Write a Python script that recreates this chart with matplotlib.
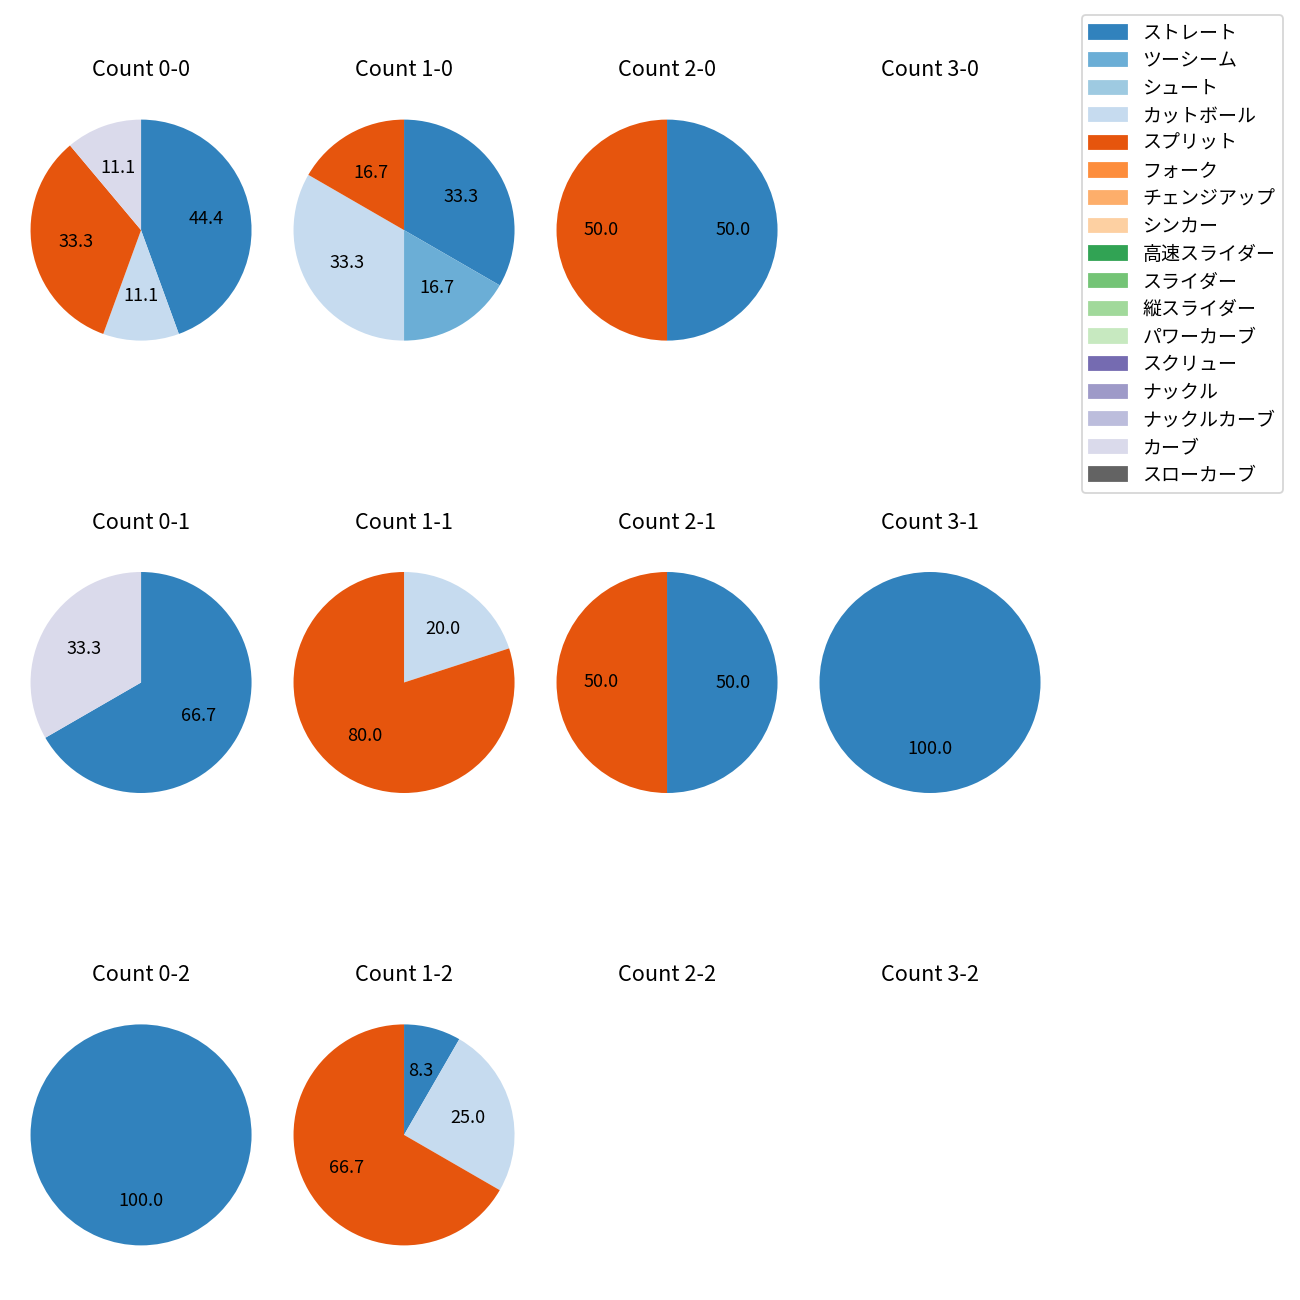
import matplotlib
matplotlib.use('Agg')
import matplotlib.pyplot as plt
from matplotlib.patches import Patch

plt.rcParams['font.family'] = ['Noto Sans CJK JP', 'DejaVu Sans']

pitch_types = ['ストレート', 'ツーシーム', 'シュート', 'カットボール', 'スプリット', 'フォーク',
               'チェンジアップ', 'シンカー', '高速スライダー', 'スライダー', '縦スライダー',
               'パワーカーブ', 'スクリュー', 'ナックル', 'ナックルカーブ', 'カーブ', 'スローカーブ']
colors = list(plt.get_cmap('tab20c').colors[:17])

count_labels = ['0-0', '1-0', '2-0', '3-0',
                '0-1', '1-1', '2-1', '3-1',
                '0-2', '1-2', '2-2', '3-2']

# pitches thrown in each count (only non-zero ones)
count_0_0 = {'ストレート': 4, 'カットボール': 1, 'スプリット': 3, 'カーブ': 1}
count_1_0 = {'ストレート': 2, 'ツーシーム': 1, 'カットボール': 2, 'スプリット': 1}
count_2_0 = {'ストレート': 1, 'スプリット': 1}
count_3_0 = {}
count_0_1 = {'ストレート': 2, 'カーブ': 1}
count_1_1 = {'カットボール': 1, 'スプリット': 4}
count_2_1 = {'ストレート': 1, 'スプリット': 1}
count_3_1 = {'ストレート': 1}
count_0_2 = {'ストレート': 1}
count_1_2 = {'ストレート': 1, 'カットボール': 3, 'スプリット': 8}
count_2_2 = {}
count_3_2 = {}

all_counts = [count_0_0, count_1_0, count_2_0, count_3_0,
              count_0_1, count_1_1, count_2_1, count_3_1,
              count_0_2, count_1_2, count_2_2, count_3_2]

fig = plt.figure(figsize=(10, 10), dpi=130)

col_x = [0.1085, 0.3108, 0.5131, 0.7154]
row_y = [0.823, 0.475, 0.127]
size = 0.2125

for i, (lab, data) in enumerate(zip(count_labels, all_counts)):
    cx = col_x[i % 4]
    cy = row_y[i // 4]
    ax = fig.add_axes([cx - size / 2, cy - size / 2, size, size])
    if data:
        names = [p for p in pitch_types if p in data]
        vals = [data[p] for p in names]
        cols = [colors[pitch_types.index(p)] for p in names]
        ax.pie(vals, colors=cols, autopct='%.1f', startangle=90, counterclock=False)
    else:
        ax.axis('off')
    ax.set_title('Count ' + lab, pad=8.6)

handles = [Patch(color=c, label=p) for p, c in zip(pitch_types, colors)]
fig.legend(handles=handles, loc='upper right', bbox_to_anchor=(0.987, 0.9885),
           borderaxespad=0, fontsize=10.5, labelspacing=0.35)

fig.savefig('out.png')
